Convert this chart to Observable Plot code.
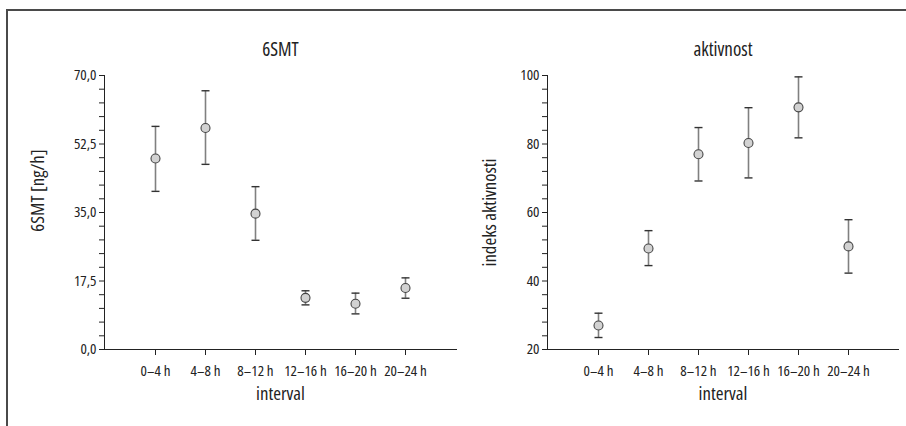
<!DOCTYPE html>
<html>
<head>
<meta charset="utf-8">
<script src="https://cdn.jsdelivr.net/npm/d3@7"></script>
<script src="https://cdn.jsdelivr.net/npm/@observablehq/plot@0.6"></script>
<style>
  html, body { margin: 0; padding: 0; background: #fff; }
  #wrap { position: relative; width: 906px; height: 426px; overflow: hidden; background: #fff; }
  #frame { position: absolute; left: 6px; top: 9px; right: -10px; bottom: -10px; border-top: 2px solid #4a4a4a; border-left: 2px solid #4a4a4a; }
  .panel { position: absolute; top: 0; }
  .panel svg { background: transparent !important; overflow: visible; max-width: none !important; }
</style>
</head>
<body>
<div id="wrap">
  <div id="frame"></div>
  <div id="left" class="panel" style="left:0px"></div>
  <div id="right" class="panel" style="left:453px"></div>
</div>
<script>
// ---- data ----
const intervals = ["0–4 h", "4–8 h", "8–12 h", "12–16 h", "16–20 h", "20–24 h"];

const smtMean  = [48.8, 56.6, 34.7, 13.2, 11.7, 15.7];
const smtLow   = [40.4, 47.3, 27.9, 11.4, 9.1, 13.1];
const smtHigh  = [57.0, 66.1, 41.6, 15.0, 14.4, 18.3];

const actMean  = [27.0, 49.5, 77.0, 80.3, 90.7, 50.1];
const actLow   = [23.5, 44.5, 69.2, 70.1, 81.8, 42.3];
const actHigh  = [30.6, 54.7, 84.8, 90.6, 99.6, 57.9];

const smtTickLabels = [0, 17.5, 35, 52.5, 70];
const smtMinorStep = 3.5;
const actTickLabels = [20, 40, 60, 80, 100];
const actMinorStep = 4;

const titles = ["6SMT", "aktivnost"];
const yLabels = ["6SMT [ng/h]", "indeks aktivnosti"];
const xLabel = "interval";

// ---- pick a narrow installed font ----
const WEIGHT = 500;
const candidates = [
  ['"Liberation Sans Narrow"', "normal"],
  ['"DejaVu Sans Condensed"', "normal"],
  ['"DejaVu Sans"', "condensed"],
  ['"Noto Sans"', "condensed"],
  ['"Open Sans"', "condensed"],
  ['"Roboto"', "condensed"],
  ['"Liberation Sans"', "normal"],
  ['"Roboto"', "normal"]
];
const probe = document.createElement("span");
Object.assign(probe.style, {position: "absolute", visibility: "hidden", whiteSpace: "nowrap", fontSize: "14px", fontWeight: WEIGHT});
document.body.appendChild(probe);
function measure(text, fam, stretch, size) {
  probe.textContent = text;
  probe.style.fontFamily = fam;
  probe.style.fontStretch = stretch;
  probe.style.fontSize = size + "px";
  return probe.getBoundingClientRect().width;
}
const tickTarget = 42.7; // "20–24 h" in the reference
let best = null;
for (const [fam, stretch] of candidates) {
  const w = measure("20–24 h", fam + ", monospace", stretch, 14);
  const wm = measure("20–24 h", "monospace", stretch, 14);
  if (Math.abs(w - wm) < 0.01 && !fam.includes("Liberation Sans\"")) continue;
  if (!best || Math.abs(w - tickTarget) < Math.abs(best.w - tickTarget)) best = {fam, stretch, w};
}
if (!best) best = {fam: '"Liberation Sans"', stretch: "normal", w: 50.6};
const FONT = best.fam + ", sans-serif";
const clamp = (v, a, b) => Math.max(a, Math.min(b, v));
const fitSize = (text, target, base) => clamp(base * target / measure(text, FONT, best.stretch, base), base * 0.8, base * 1.25);
const TICK_FS = +fitSize("20–24 h", tickTarget, 14).toFixed(2);
const TITLE_FS = +fitSize("aktivnost", 59, 17).toFixed(2);
const LABEL_FS = +((fitSize("indeks aktivnosti", 110, 17) + fitSize("interval", 48, 17)) / 2).toFixed(2);
probe.remove();
const css = document.createElement("style");
css.textContent = `.panel svg, .panel svg text { font-family: ${FONT} !important; font-stretch: ${best.stretch}; font-weight: ${WEIGHT}; }`;
document.head.appendChild(css);

const capSymbol = {
  draw(context, size) {
    context.moveTo(-4, 0);
    context.lineTo(4, 0);
  }
};

function makePanel({mean, low, high, labels, step, title, yLabel, width, marginLeft, marginRight, dxY, dyY, fmt}) {
  const data = intervals.map((k, i) => ({k, m: mean[i], lo: low[i], hi: high[i]}));
  const lo = labels[0], hi = labels[labels.length - 1];
  const ticks = d3.range(0, Math.round((hi - lo) / step) + 1).map(i => lo + i * step);
  return Plot.plot({
    width, height: 426,
    marginLeft, marginRight, marginTop: 75, marginBottom: 77,
    style: {fontFamily: FONT, fontSize: TICK_FS + "px", color: "#222", background: "transparent", overflow: "visible"},
    x: {type: "point", domain: intervals, padding: 1, label: null, tickSize: 6, tickPadding: 10, line: true},
    y: {domain: [lo, hi], ticks, tickSize: 5, tickPadding: 3, label: null, line: true,
        tickFormat: v => labels.includes(v) ? fmt(v) : ""},
    marks: [
      Plot.ruleX(data, {x: "k", y1: "lo", y2: "hi", stroke: "#808080", strokeWidth: 1.6}),
      Plot.dot(data, {x: "k", y: "lo", symbol: capSymbol, stroke: "#333", strokeWidth: 1.4, r: 3}),
      Plot.dot(data, {x: "k", y: "hi", symbol: capSymbol, stroke: "#333", strokeWidth: 1.4, r: 3}),
      Plot.dot(data, {x: "k", y: "m", r: 4.5, fill: "#d2d2d2", stroke: "#444", strokeWidth: 1.1}),
      Plot.text([title], {frameAnchor: "top", dy: -33, fontSize: TITLE_FS, fill: "#222"}),
      Plot.text([xLabel], {frameAnchor: "bottom", dy: 50, fontSize: LABEL_FS, fill: "#222"}),
      Plot.text([yLabel], {frameAnchor: "left", textAnchor: "middle", lineAnchor: "middle", dx: dxY, dy: dyY, rotate: -90, fontSize: LABEL_FS, fill: "#222"})
    ]
  });
}

document.getElementById("left").appendChild(makePanel({
  mean: smtMean, low: smtLow, high: smtHigh, labels: smtTickLabels, step: smtMinorStep,
  title: titles[0], yLabel: yLabels[0], width: 460, marginLeft: 104, marginRight: 4, dxY: -67, dyY: -22,
  fmt: v => v.toFixed(1).replace(".", ",")
}));
document.getElementById("right").appendChild(makePanel({
  mean: actMean, low: actLow, high: actHigh, labels: actTickLabels, step: actMinorStep,
  title: titles[1], yLabel: yLabels[1], width: 453, marginLeft: 94, marginRight: 8, dxY: -58, dyY: 0,
  fmt: v => String(v)
}));
</script>
</body>
</html>
